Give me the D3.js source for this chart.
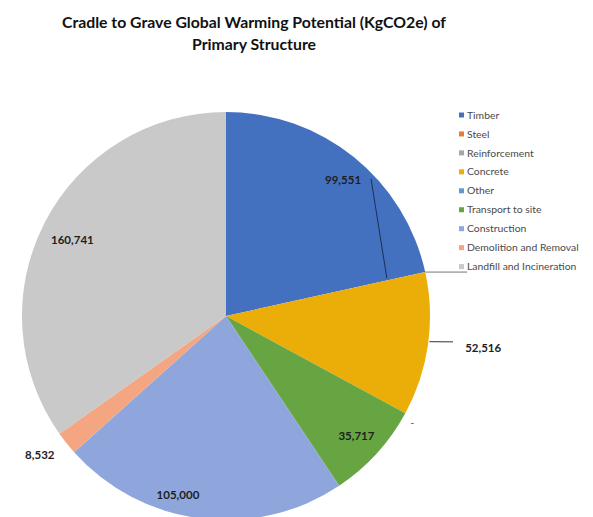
<!DOCTYPE html>
<html><head><meta charset="utf-8">
<script src="https://cdn.jsdelivr.net/npm/d3@7"></script>
<style>body{margin:0;background:#fff;} svg{display:block;}</style>
</head><body>
<svg id="chart" width="593" height="517"></svg>
<script>
const categories = ["Timber","Steel","Reinforcement","Concrete","Other","Transport to site","Construction","Demolition and Removal","Landfill and Incineration"];
const values = [99551, 0, 0, 52516, 0, 35717, 105000, 8532, 160741];
const colors = ["#4470C0","#E87A33","#A5A5A5","#EBAD08","#5B9BD5","#67A543","#8EA6DB","#F3A681","#C9C9C9"];
const titleLines = ["Cradle to Grave Global Warming Potential (KgCO2e) of","Primary Structure"];

const svg = d3.select("#chart");
const cx = 226, cy = 316, R = 204;
const fontFam = "Lato, 'Open Sans', sans-serif";

svg.selectAll("text.title").data(titleLines).enter().append("text")
  .attr("x", 254).attr("y", (d,i)=>28 + i*22)
  .attr("text-anchor","middle")
  .attr("font-family", fontFam).attr("font-weight","bold")
  .attr("font-size", 15.8).attr("fill","#111")
  .text(d=>d);

const pie = d3.pie().sort(null).value(d=>d.v);
const data = categories.map((c,i)=>({c, v: values[i], col: colors[i]}));
const arcs = pie(data);
const arc = d3.arc().innerRadius(0).outerRadius(R);

const g = svg.append("g").attr("transform",`translate(${cx},${cy})`);
g.selectAll("path").data(arcs.filter(a=>a.data.v>0)).enter().append("path")
  .attr("d", arc).attr("fill", d=>d.data.col);

const fmt = d3.format(",");
// label placement: [angle in degrees clockwise from top, radius factor]
const labelPlace = {
  "Timber": [40.7, 0.88],
  "Concrete": [97, 1.27],
  "Transport to site": [132.7, 0.87],
  "Construction": [195, 0.91],
  "Demolition and Removal": [233.2, 1.14],
  "Landfill and Incineration": [296.3, 0.84]
};
function polar(angDeg, r){ const a = angDeg*Math.PI/180; return [Math.sin(a)*r, -Math.cos(a)*r]; }

arcs.forEach(a=>{
  if (a.data.v <= 0) return;
  const p = labelPlace[a.data.c];
  const [x,y] = polar(p[0], p[1]*R);
  g.append("text").attr("x",x).attr("y",y).attr("dy","0.35em")
   .attr("text-anchor","middle")
   .attr("font-family", fontFam).attr("font-weight","bold")
   .attr("font-size", 11.5).attr("fill","#1e1e1e")
   .text(fmt(a.data.v));
});

const timber = arcs[0];
const tEndDeg = timber.endAngle*180/Math.PI;
const tl1 = polar(40.7, 0.88*R);
const tl2 = polar(tEndDeg-0.8, 0.81*R);
g.append("line").attr("x1", tl1[0]+28).attr("y1", tl1[1]-1)
  .attr("x2", tl2[0]).attr("y2", tl2[1])
  .attr("stroke","#1d2f55").attr("stroke-width",1);
const z = polar(tEndDeg, R);
g.append("line").attr("x1", z[0]).attr("y1", z[1]).attr("x2", z[0]+42).attr("y2", z[1])
  .attr("stroke","#777").attr("stroke-width",1);
const c1 = polar(97.2, R+1), c2 = polar(96.5, 1.12*R);
g.append("line").attr("x1",c1[0]).attr("y1",c1[1]).attr("x2",c2[0]).attr("y2",c2[1])
  .attr("stroke","#333").attr("stroke-width",1);
const oth = arcs[4];
const oDeg = oth.startAngle*180/Math.PI;
const op = polar(oDeg+2, 1.06*R);
g.append("text").attr("x",op[0]).attr("y",op[1]).attr("text-anchor","middle")
  .attr("font-family",fontFam).attr("font-size",10).attr("fill","#333").text("-");

const lg = svg.append("g").attr("transform","translate(459,115)");
const items = lg.selectAll("g").data(data).enter().append("g")
  .attr("transform",(d,i)=>`translate(0,${i*18.95})`);
items.append("rect").attr("x",0).attr("y",-2.5).attr("width",5).attr("height",5).attr("fill",d=>d.col);
items.append("text").attr("x",8).attr("y",0).attr("dy","0.35em")
  .attr("font-family",fontFam).attr("font-size",10.4).attr("fill","#4a4a4a")
  .text(d=>d.c);
</script>
</body></html>
